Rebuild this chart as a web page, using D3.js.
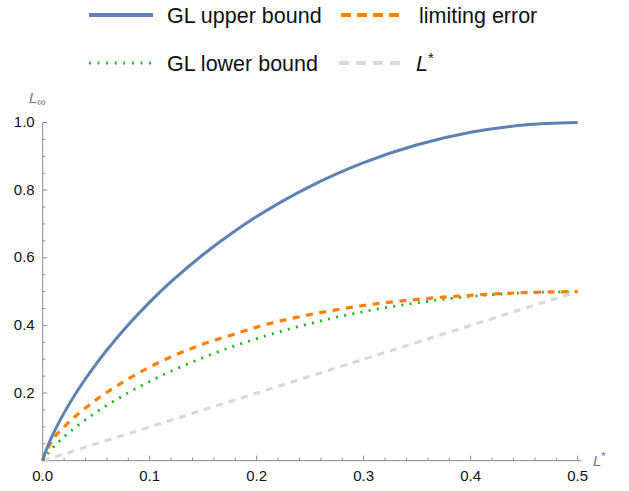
<!DOCTYPE html>
<html><head><meta charset="utf-8">
<script src="https://cdn.jsdelivr.net/npm/d3@7"></script>
<style>body{margin:0;background:#fff}svg{display:block;font-family:"Liberation Sans",Arial,sans-serif}</style>
</head><body><svg id="c" width="629" height="491"></svg>
<script>
const Lstar = [0, 0.001, 0.0025, 0.005, 0.01, 0.02, 0.03, 0.04, 0.05, 0.06, 0.08, 0.10, 0.12, 0.15, 0.18, 0.20, 0.25, 0.30, 0.35, 0.40, 0.45, 0.50];
const upper = [0, 0.0114, 0.0252, 0.0454, 0.0808, 0.1414, 0.1944, 0.2423, 0.2864, 0.3274, 0.4022, 0.4690, 0.5294, 0.6098, 0.6801, 0.7219, 0.8113, 0.8813, 0.9341, 0.9710, 0.9928, 1.0];
const lower = [0, 0.0057, 0.0126, 0.0227, 0.0404, 0.0707, 0.0972, 0.1212, 0.1432, 0.1637, 0.2011, 0.2345, 0.2647, 0.3049, 0.3401, 0.3610, 0.4057, 0.4407, 0.4671, 0.4855, 0.4964, 0.5];
const limiting = [0, 0.012, 0.024, 0.038, 0.065, 0.100, 0.130, 0.156, 0.180, 0.202, 0.242, 0.277, 0.307, 0.345, 0.375, 0.395, 0.432, 0.459, 0.477, 0.489, 0.497, 0.5];
const diag = [0, 0.5];
const diagX = [0, 0.5];
const xTicks = [0.0, 0.1, 0.2, 0.3, 0.4, 0.5];
const yTicks = [0.2, 0.4, 0.6, 0.8, 1.0];
const legendLabels = ["GL upper bound", "limiting error", "GL lower bound", "L*"];

const svg = d3.select("#c");
const x = d3.scaleLinear().domain([0, 0.5]).range([42.7, 577.7]);
const y = d3.scaleLinear().domain([0, 1]).range([460.7, 122.5]);
const axisCol = "#8a8a8a";

const xAxis = svg.append("g").attr("transform", `translate(0,${y(0)})`);
xAxis.append("line").attr("x1", x(0)).attr("x2", 581.5).attr("stroke", axisCol).attr("stroke-width", 1);
d3.range(0, 0.5001, 0.02).forEach(v => {
  const major = Math.abs(v * 10 - Math.round(v * 10)) < 1e-6;
  xAxis.append("line").attr("x1", x(v)).attr("x2", x(v)).attr("y1", 0).attr("y2", major ? -5 : -3).attr("stroke", axisCol);
});
xAxis.selectAll("text.t").data(xTicks).join("text").attr("class", "t")
  .attr("x", d => x(d)).attr("y", 20).attr("text-anchor", "middle").attr("font-size", 15).attr("fill", "#111")
  .text(d => d.toFixed(1));

const yAxis = svg.append("g").attr("transform", `translate(${x(0)},0)`);
yAxis.append("line").attr("y1", y(0)).attr("y2", y(1)).attr("stroke", axisCol);
d3.range(0, 1.0001, 0.05).forEach(v => {
  const major = Math.abs(v * 5 - Math.round(v * 5)) < 1e-6;
  yAxis.append("line").attr("y1", y(v)).attr("y2", y(v)).attr("x1", 0).attr("x2", major ? 4.5 : 2.5).attr("stroke", axisCol);
});
yAxis.selectAll("text.t").data(yTicks).join("text").attr("class", "t")
  .attr("x", -8).attr("y", d => y(d) + 4.5).attr("text-anchor", "end").attr("font-size", 15).attr("fill", "#111")
  .text(d => d.toFixed(1));

const yl = svg.append("text").attr("x", 29).attr("y", 103).attr("font-size", 15).attr("fill", "#777");
yl.append("tspan").attr("font-style", "italic").text("L");
yl.append("tspan").attr("dy", 3).attr("font-size", 12).text("∞");
const xl = svg.append("text").attr("x", 593).attr("y", 466).attr("font-size", 15).attr("fill", "#777");
xl.append("tspan").attr("font-style", "italic").text("L");
xl.append("tspan").attr("dy", -6).attr("font-size", 11).text("*");

const line = d3.line().x(d => x(d[0])).y(d => y(d[1])).curve(d3.curveMonotoneX);
const series = [
  {vals: diag, xs: diagX, color: "#d9d9d9", w: 3.2, dash: "7,6"},
  {vals: lower, xs: Lstar, color: "#1fb51f", w: 2.8, dash: "2,6.3"},
  {vals: limiting, xs: Lstar, color: "#ff8000", w: 3.2, dash: "7,6.5"},
  {vals: upper, xs: Lstar, color: "#5e81b5", w: 3, dash: null},
];
series.forEach(s => {
  svg.append("path").datum(s.xs.map((v, i) => [v, s.vals[i]]))
    .attr("d", line).attr("fill", "none").attr("stroke", s.color).attr("stroke-width", s.w)
    .attr("stroke-dasharray", s.dash);
});

const r1 = 15, r2 = 63;
const leg = [
  {x: 89, y: r1, color: "#5e81b5", w: 4, dash: null, label: legendLabels[0], tx: 167},
  {x: 341, y: r1, color: "#ff8000", w: 4, dash: "10,6", label: legendLabels[1], tx: 419},
  {x: 89, y: r2, color: "#1fb51f", w: 3, dash: "1.8,6.8", label: legendLabels[2], tx: 167},
  {x: 339, y: r2, color: "#d9d9d9", w: 4, dash: "10,7", label: legendLabels[3], tx: 416},
];
leg.forEach((l, i) => {
  svg.append("line").attr("x1", l.x).attr("x2", l.x + 64).attr("y1", l.y).attr("y2", l.y)
    .attr("stroke", l.color).attr("stroke-width", l.w).attr("stroke-dasharray", l.dash);
  const t = svg.append("text").attr("x", l.tx).attr("y", l.y + 7.5).attr("font-size", 21.5).attr("fill", "#111");
  if (i === 3) {
    t.append("tspan").attr("font-style", "italic").text("L");
    t.append("tspan").attr("dy", -8).attr("font-size", 15).text("*");
  } else t.text(l.label);
});
</script></body></html>
